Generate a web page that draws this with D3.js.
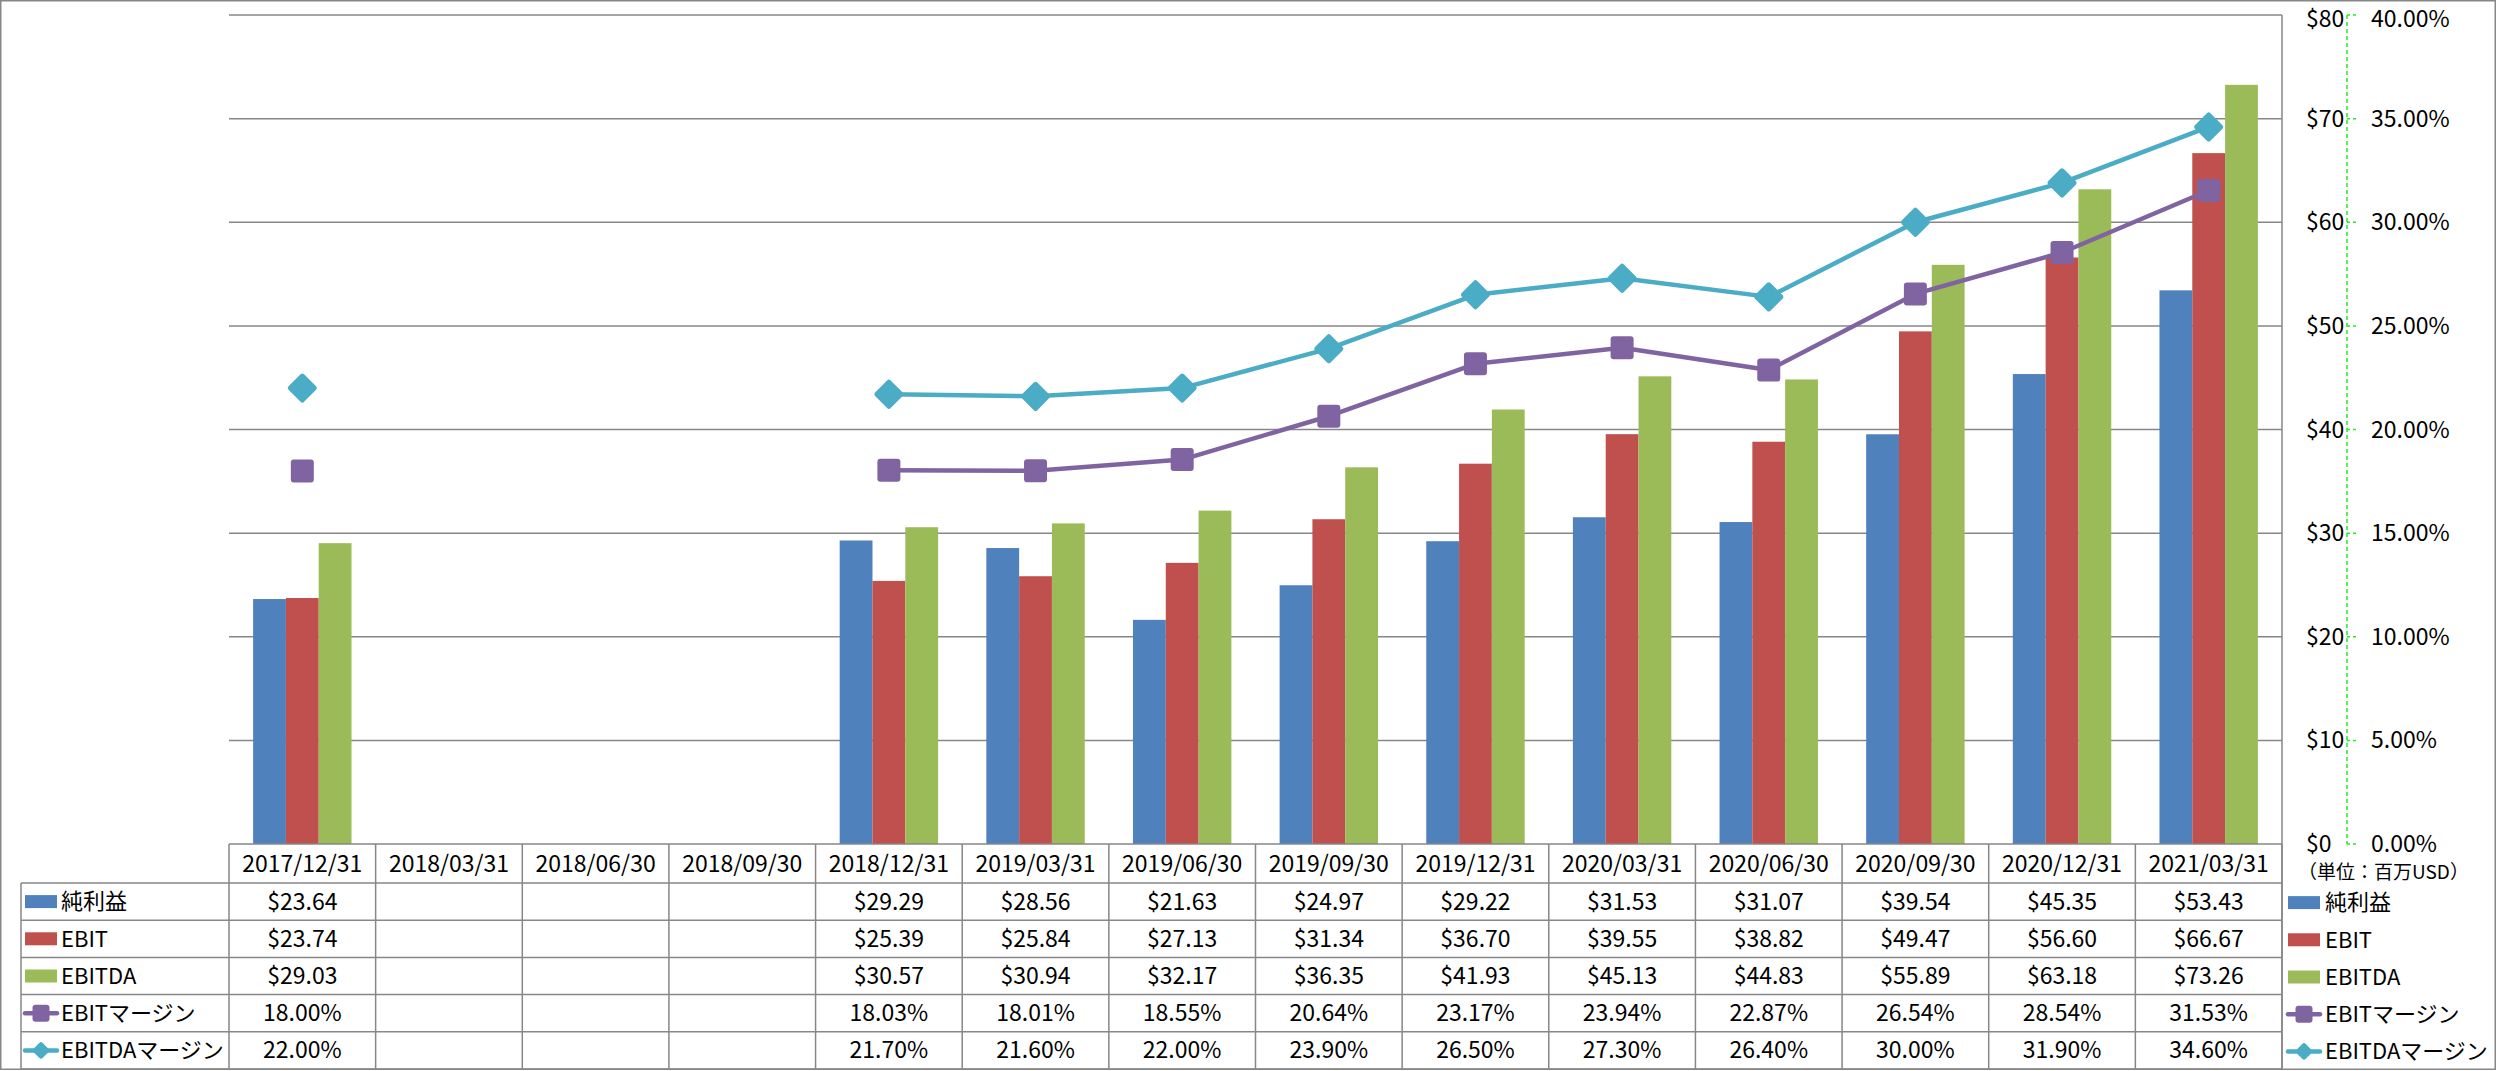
<!DOCTYPE html>
<html><head><meta charset="utf-8">
<script src="https://cdn.jsdelivr.net/npm/d3@7"></script>
<style>
html,body{margin:0;padding:0;background:#fff;}
svg{display:block;}
text{font-family:"Noto Sans CJK JP","Noto Sans",sans-serif;fill:#000;}
</style></head>
<body>
<svg id="chart" width="2496" height="1071"></svg>
<script>
const categories = ["2017/12/31","2018/03/31","2018/06/30","2018/09/30","2018/12/31","2019/03/31","2019/06/30","2019/09/30","2019/12/31","2020/03/31","2020/06/30","2020/09/30","2020/12/31","2021/03/31"];
const netIncome   = [23.64,null,null,null,29.29,28.56,21.63,24.97,29.22,31.53,31.07,39.54,45.35,53.43];
const ebit        = [23.74,null,null,null,25.39,25.84,27.13,31.34,36.70,39.55,38.82,49.47,56.60,66.67];
const ebitda      = [29.03,null,null,null,30.57,30.94,32.17,36.35,41.93,45.13,44.83,55.89,63.18,73.26];
const ebitMargin  = [18.00,null,null,null,18.03,18.01,18.55,20.64,23.17,23.94,22.87,26.54,28.54,31.53];
const ebitdaMargin= [22.00,null,null,null,21.70,21.60,22.00,23.90,26.50,27.30,26.40,30.00,31.90,34.60];
const barSeriesNames = ["純利益","EBIT","EBITDA"];
const lineSeriesNames = ["EBITマージン","EBITDAマージン"];
const dollarTicks = [0,10,20,30,40,50,60,70,80];
const pctTicks = [0,5,10,15,20,25,30,35,40];
const unitLabel = "（単位：百万USD）";

const barColors = ["#4F81BD","#C0504D","#9BBB59"];
const lineColors = ["#8064A2","#4BACC6"];
const gridColor = "#878787";

const svg = d3.select("#chart");
const L = 229, R = 2282, T = 15, B = 844;
const legendLeft = 21;
const rowEdges = [844, 883, 920.2, 957.4, 994.6, 1031.8, 1069];
const numFont = "23px", lblFont = "22px";

const x = d3.scaleBand().domain(categories).range([L, R]).paddingInner(0).paddingOuter(0);
const xs = d3.scaleBand().domain(barSeriesNames).range([0, x.bandwidth()]).paddingInner(0).paddingOuter(0.735);
const y = d3.scaleLinear().domain([0, 80]).range([B, T]);
const yp = d3.scaleLinear().domain([0, 40]).range([B, T]);

// outer border
svg.append("rect").attr("x",0.75).attr("y",0.75).attr("width",2494.5).attr("height",1068.5)
  .attr("fill","none").attr("stroke","#878787").attr("stroke-width",1.5);

// gridlines
svg.append("g").selectAll("line").data(dollarTicks.filter(d=>d>0)).join("line")
  .attr("x1",L).attr("x2",R).attr("y1",d=>y(d)).attr("y2",d=>y(d))
  .attr("stroke",gridColor).attr("stroke-width",1.5);

// right plot border
svg.append("line").attr("x1",R).attr("x2",R).attr("y1",T).attr("y2",rowEdges[6])
  .attr("stroke",gridColor).attr("stroke-width",1.5);

// bars
const barData = [netIncome, ebit, ebitda];
barData.forEach((vals, si) => {
  svg.append("g").selectAll("rect").data(categories.map((c,i)=>({c, v: vals[i]})).filter(d=>d.v!=null)).join("rect")
    .attr("x", d => x(d.c) + xs(barSeriesNames[si]))
    .attr("width", xs.bandwidth())
    .attr("y", d => y(d.v))
    .attr("height", d => B - y(d.v))
    .attr("fill", barColors[si]);
});

// lines
const lineData = [ebitMargin, ebitdaMargin];
const cx = c => x(c) + x.bandwidth()/2;
lineData.forEach((vals, si) => {
  const pts = categories.map((c,i)=>({c, v: vals[i]}));
  const line = d3.line().defined(d=>d.v!=null).x(d=>cx(d.c)).y(d=>yp(d.v));
  svg.append("path").datum(pts).attr("d", line).attr("fill","none")
    .attr("stroke", lineColors[si]).attr("stroke-width",4.5).attr("stroke-linejoin","round");
});
// markers
function squareMarker(g, cxv, cyv, s, color){
  g.append("rect").attr("x",cxv-s/2).attr("y",cyv-s/2).attr("width",s).attr("height",s)
    .attr("rx",3).attr("fill",color);
}
function diamondMarker(g, cxv, cyv, s, color){
  g.append("rect").attr("x",-s/2).attr("y",-s/2).attr("width",s).attr("height",s).attr("rx",2.5)
    .attr("fill",color).attr("transform",`translate(${cxv},${cyv}) rotate(45)`);
}
const mg = svg.append("g");
categories.forEach((c,i)=>{
  if (ebitMargin[i]!=null) squareMarker(mg, cx(c), yp(ebitMargin[i]), 23, lineColors[0]);
});
categories.forEach((c,i)=>{
  if (ebitdaMargin[i]!=null) diamondMarker(mg, cx(c), yp(ebitdaMargin[i]), 22, lineColors[1]);
});

// right axes
const axX = 2347;
svg.append("line").attr("x1",axX).attr("x2",axX).attr("y1",T).attr("y2",B)
  .attr("stroke","#22ee22").attr("stroke-width",1.5).attr("stroke-dasharray","4,3");
svg.append("g").selectAll("line").data(dollarTicks).join("line")
  .attr("x1",axX).attr("x2",axX+9).attr("y1",d=>y(d)).attr("y2",d=>y(d))
  .attr("stroke","#22ee22").attr("stroke-width",1.5).attr("stroke-dasharray","3,3");
// baseline kept low enough that the top label's font box stays inside the page
const labelBase = v => Math.max(v + 8, 27);
svg.append("g").selectAll("text").data(dollarTicks).join("text")
  .attr("x",2306).attr("y",d=>labelBase(y(d)))
  .style("font-size",numFont).text(d=>"$"+d);
svg.append("g").selectAll("text").data(pctTicks).join("text")
  .attr("x",2371).attr("y",d=>labelBase(yp(d)))
  .style("font-size",numFont).text(d=>d.toFixed(2)+"%");
svg.append("text").attr("x",2298).attr("y",872).attr("dy","0.35em")
  .style("font-size","19px").text(unitLabel);

// data table
const tg = svg.append("g");
tg.append("line").attr("x1",L).attr("x2",R).attr("y1",rowEdges[0]).attr("y2",rowEdges[0])
  .attr("stroke",gridColor).attr("stroke-width",1.5);
tg.selectAll("line.h").data(rowEdges.slice(1)).join("line").attr("class","h")
  .attr("x1",legendLeft).attr("x2",R).attr("y1",d=>d).attr("y2",d=>d)
  .attr("stroke",gridColor).attr("stroke-width",1.5);
const vEdges = categories.map(c=>x(c)).concat([R]);
tg.selectAll("line.v").data(vEdges).join("line").attr("class","v")
  .attr("x1",d=>d).attr("x2",d=>d).attr("y1",rowEdges[0]).attr("y2",rowEdges[6])
  .attr("stroke",gridColor).attr("stroke-width",1.5);
tg.append("line").attr("x1",legendLeft).attr("x2",legendLeft).attr("y1",rowEdges[1]).attr("y2",rowEdges[6])
  .attr("stroke",gridColor).attr("stroke-width",1.5);

const rowMid = k => (rowEdges[k]+rowEdges[k+1])/2;
tg.selectAll("text.hd").data(categories).join("text").attr("class","hd")
  .attr("x",d=>cx(d)).attr("y",rowMid(0)).attr("dy","0.35em").attr("text-anchor","middle")
  .style("font-size",numFont).text(d=>d);
const tableRows = [
  {vals: netIncome, fmt: v=>"$"+v.toFixed(2)},
  {vals: ebit, fmt: v=>"$"+v.toFixed(2)},
  {vals: ebitda, fmt: v=>"$"+v.toFixed(2)},
  {vals: ebitMargin, fmt: v=>v.toFixed(2)+"%"},
  {vals: ebitdaMargin, fmt: v=>v.toFixed(2)+"%"}
];
tableRows.forEach((r,k)=>{
  tg.append("g").selectAll("text").data(categories.map((c,i)=>({c,v:r.vals[i]})).filter(d=>d.v!=null)).join("text")
    .attr("x",d=>cx(d.c)).attr("y",rowMid(k+1)).attr("dy","0.35em").attr("text-anchor","middle")
    .style("font-size",numFont).text(d=>r.fmt(d.v));
});

// legend keys (table and right legend)
const allNames = barSeriesNames.concat(lineSeriesNames);
function legendKey(g, x0, w, yc, k){
  if (k < 3) {
    g.append("rect").attr("x",x0).attr("y",yc-6.5).attr("width",w).attr("height",13).attr("fill",barColors[k]);
  } else {
    const col = lineColors[k-3];
    g.append("line").attr("x1",x0).attr("x2",x0+w).attr("y1",yc).attr("y2",yc)
      .attr("stroke",col).attr("stroke-width",4.5).attr("stroke-linecap","round");
    if (k===3) squareMarker(g, x0+w/2, yc, 17, col);
    else diamondMarker(g, x0+w/2, yc, 13, col);
  }
}
allNames.forEach((n,k)=>{
  const yc = rowMid(k+1);
  legendKey(tg, 25, 32, yc, k);
  tg.append("text").attr("x",61).attr("y",yc).attr("dy","0.35em").style("font-size",lblFont).text(n);
  legendKey(svg, 2288, 32, yc+1, k);
  svg.append("text").attr("x",2325).attr("y",yc+1).attr("dy","0.35em").style("font-size",lblFont).text(n);
});
</script>
</body></html>
